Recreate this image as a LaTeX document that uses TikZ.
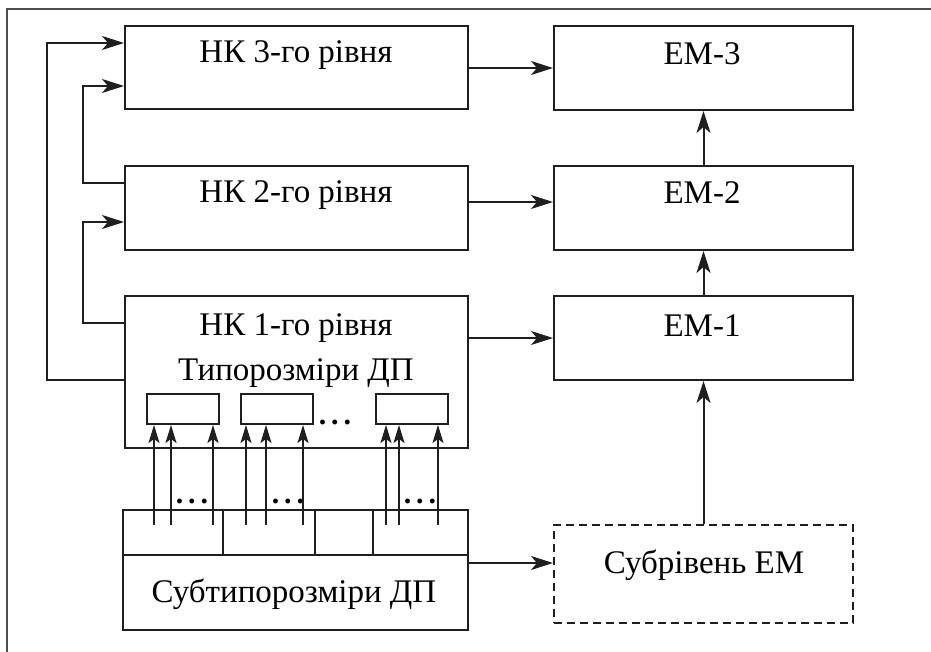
\documentclass[tikz,border=0pt]{standalone}
\usepackage{fontspec}
\setmainfont{Liberation Serif}
\usetikzlibrary{arrows.meta}
\begin{document}
\begin{tikzpicture}[x=1pt,y=-1pt,
  box/.style={draw=black!88, line width=2pt, rectangle, inner sep=0pt},
  dbox/.style={box, dash pattern=on 8pt off 5pt},
  lbl/.style={anchor=base, inner sep=0pt, font=\fontsize{33}{38}\selectfont},
  dts/.style={anchor=base, inner sep=0pt, font=\fontsize{30}{34}\selectfont\bfseries},
  conn/.style={line width=2pt, draw=black!88},
  arr/.style={conn, -{Stealth[length=22pt,width=14pt,inset=6pt]}},
  sarr/.style={conn, -{Stealth[length=18pt,width=11pt,inset=4pt]}},
  frame/.style={draw=black!70, line width=2pt}]
\useasboundingbox (0,0) rectangle (931,652);
\coordinate (fa) at (931,9);
\coordinate (fb) at (7,9);
\coordinate (fc) at (7,652);
\draw[frame] (fa) -- (fb) -- (fc);
% left column
\node[box, minimum width=343pt, minimum height=83pt] (nk3) at (296.5,67.5) {};
\node[box, minimum width=343pt, minimum height=84pt] (nk2) at (296.5,208) {};
\node[box, minimum width=343pt, minimum height=152pt] (nk1) at (296.5,372) {};
\node[lbl] (nk3t) at (296,63) {НК 3-го рівня};
\node[lbl] (nk2t) at (296,203) {НК 2-го рівня};
\node[lbl] (nk1t) at (296,335) {НК 1-го рівня};
\node[lbl] (tpt) at (296,380) {Типорозміри ДП};
\node[box, minimum width=72pt, minimum height=30pt] (s1) at (183,409) {};
\node[box, minimum width=72pt, minimum height=30pt] (s2) at (277,409) {};
\node[box, minimum width=72pt, minimum height=30pt] (s3) at (412,409) {};
\node[dts] (d0) at (335,424) {.\hspace{5pt}.\hspace{5pt}.};
% sub box
\node[box, minimum width=345pt, minimum height=120pt] (sub) at (295.5,570) {};
\coordinate (r1) at (123,555);
\coordinate (r2) at (468,555);
\draw[conn] (r1) -- (r2);
\coordinate (v1) at (223,510);
\coordinate (v2) at (315,510);
\coordinate (v3) at (373,510);
\draw[conn] (v1) -- (v1 |- r1);
\draw[conn] (v2) -- (v2 |- r1);
\draw[conn] (v3) -- (v3 |- r1);
\node[lbl] (subt) at (294,602) {Субтипорозміри ДП};
\node[dts] (d1) at (192,503) {.\hspace{5pt}.\hspace{5pt}.};
\node[dts] (d2) at (288,503) {.\hspace{5pt}.\hspace{5pt}.};
\node[dts] (d3) at (420,503) {.\hspace{5pt}.\hspace{5pt}.};
% small arrows
\foreach \x/\t in {154/s1,171/s1,213/s1,246/s2,266/s2,303/s2,386/s3,399/s3,438/s3}{
  \coordinate (a\x) at (\x,525);
  \draw[sarr] (a\x) -- (a\x |- \t.south);
}
% right column
\node[box, minimum width=299pt, minimum height=84pt] (em3) at (703.5,68) {};
\node[box, minimum width=299pt, minimum height=84pt] (em2) at (703.5,208) {};
\node[box, minimum width=299pt, minimum height=84pt] (em1) at (703.5,338) {};
\node[dbox, minimum width=299pt, minimum height=98pt] (sem) at (703.5,574) {};
\node[lbl] (em3t) at (702,65) {ЕМ-3};
\node[lbl] (em2t) at (702,204) {ЕМ-2};
\node[lbl] (em1t) at (702,336) {ЕМ-1};
\node[lbl] (semt) at (704,573) {Субрівень ЕМ};
% horizontal arrows
\draw[arr] (nk3.east |- em3.west) -- (em3.west);
\coordinate (h2) at (0,202);
\draw[arr] (h2 -| nk2.east) -- (h2 -| em2.west);
\draw[arr] (em1.west -| nk1.east) -- (em1.west);
\coordinate (h4) at (0,563);
\draw[arr] (h4 -| sub.east) -- (h4 -| sem.west);
% vertical arrows
\draw[arr] (em2.north) -- (em3.south);
\draw[arr] (em1.north) -- (em2.south);
\draw[arr] (sem.north) -- (em1.south);
% feedback loops
\coordinate (o1) at (47,380);
\coordinate (o2) at (47,43);
\draw[arr] (o1 -| nk1.west) -- (o1) -- (o2) -- (o2 -| nk3.west);
\coordinate (i1) at (83,323);
\coordinate (i2) at (83,222);
\draw[arr] (i1 -| nk1.west) -- (i1) -- (i2) -- (i2 -| nk2.west);
\coordinate (j1) at (83,183);
\coordinate (j2) at (83,86);
\draw[arr] (j1 -| nk2.west) -- (j1) -- (j2) -- (j2 -| nk3.west);
\end{tikzpicture}
\end{document}
